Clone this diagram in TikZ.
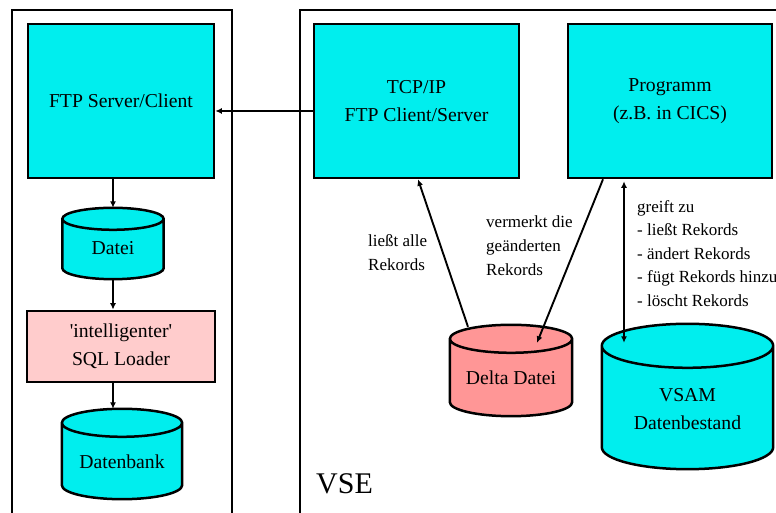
\documentclass[tikz,border=0pt]{standalone}
\usepackage{fontspec}
\setmainfont{Liberation Serif}
\usetikzlibrary{arrows.meta,calc}
\definecolor{boxcyan}{RGB}{0,238,238}
\definecolor{loaderpink}{RGB}{255,204,204}
\definecolor{deltared}{RGB}{255,150,150}
\newcommand\boxfont{\fontsize{19.7}{28}\selectfont}
\newcommand\lblfont{\fontsize{17}{23.6}\selectfont}
\newcommand\vsefont{\fontsize{30}{36}\selectfont}
% cylinder outline drawn around a named node: node, fill colour, end-cap half height
\newcommand\cylpath[3]{%
  \draw[line width=2.5pt,line join=round,fill=#2]
    let \p1=(#1.north west), \p2=(#1.south east), \n1={(\x2-\x1)/2} in
    (\x1,\y1-#3pt) -- (\x1,\y2+#3pt)
      arc[start angle=180,end angle=360,x radius=\n1,y radius=#3pt]
      -- (\x2,\y1-#3pt)
      arc[start angle=0,end angle=180,x radius=\n1,y radius=#3pt] -- cycle
    (\x1,\y1-#3pt) arc[start angle=180,end angle=360,x radius=\n1,y radius=#3pt];
}
\begin{document}
\begin{tikzpicture}[x=1pt,y=1pt,
  frame/.style={line width=1.9pt},
  procbox/.style={draw,line width=2.6pt,fill=boxcyan,inner sep=0pt,align=center,font=\boxfont},
  cylbox/.style={inner sep=0pt},
  cyltext/.style={inner sep=0pt,align=center,font=\boxfont},
  lbl/.style={inner sep=0pt,align=left,anchor=west,font=\lblfont},
  arr/.style={line width=1.9pt,-{Latex[length=6.5pt,width=6pt]}},
  dblarr/.style={line width=1.9pt,{Latex[length=6.5pt,width=6pt]}-{Latex[length=6.5pt,width=6pt]}}]
\useasboundingbox (0,0) rectangle (776,513);

% system frames
\draw[frame] (12,0) -- (12,503) -- (232,503) -- (232,0);
\draw[frame] (300,0) -- (300,503) -- (776,503);

% process boxes
\node[procbox,minimum width=186pt,minimum height=154pt] (ftp) at (121,412) {FTP Server/Client};
\node[procbox,minimum width=205pt,minimum height=154pt] (tcp) at (416.5,412) {TCP/IP\\FTP Client/Server};
\node[procbox,minimum width=204pt,minimum height=154pt] (prog) at (670,412) {Programm\\(z.B. in CICS)};
\node[procbox,fill=loaderpink,minimum width=188pt,minimum height=71pt] (sql) at (121,166.5) {\textquotesingle intelligenter\textquotesingle\\SQL Loader};

% data stores
\node[cylbox,minimum width=101pt,minimum height=71pt] (datei) at (113,269.5) {};
\cylpath{datei}{boxcyan}{11}
\node[cyltext] (dateit) at ($(datei.center)+(0,-4.5)$) {Datei};

\node[cylbox,minimum width=120pt,minimum height=90pt] (db) at (122,59) {};
\cylpath{db}{boxcyan}{14}
\node[cyltext] (dbt) at ($(db.center)+(0,-8)$) {Datenbank};

\node[cylbox,minimum width=122pt,minimum height=91pt] (delta) at (511,142.5) {};
\cylpath{delta}{deltared}{14}
\node[cyltext] (deltat) at ($(delta.center)+(0,-7.5)$) {Delta Datei};

\node[cylbox,minimum width=171pt,minimum height=145pt] (vsam) at (687.5,116.5) {};
\cylpath{vsam}{boxcyan}{22}
\node[cyltext] (vsamt) at ($(vsam.center)+(0,-13)$) {VSAM\\Datenbestand};

% connectors
\draw[arr] ([yshift=-10pt]tcp.west) -- ([yshift=-10pt]ftp.east);
\draw[arr] (ftp.south -| datei.north) -- (datei.north);
\draw[arr] (datei.south) -- (datei.south |- sql.north);
\draw[arr] (sql.south -| datei.south) -- (datei.south |- db.north);
\draw[arr] ([xshift=-43pt,yshift=-2pt]delta.north) -- ([xshift=1.5pt]tcp.south);
\draw[arr] ([xshift=-67pt]prog.south) -- ([xshift=26pt,yshift=-18pt]delta.north);
\draw[dblarr] ([xshift=-46pt,yshift=-2pt]prog.south) -- ([xshift=-63.5pt,yshift=-19pt]vsam.north);

% annotations
\node[lbl] (l1) at (368,260.5) {ließt alle\\Rekords};
\node[lbl] (l2) at (486,267.3) {vermerkt die\\geänderten\\Rekords};
\node[lbl] (l3) at (637,259.6) {greift zu\\- ließt Rekords\\- ändert Rekords\\- fügt Rekords hinzu\\- löscht Rekords};
\node[inner sep=0pt,anchor=west,font=\vsefont] (vse) at (316,29) {VSE};
\end{tikzpicture}
\end{document}
